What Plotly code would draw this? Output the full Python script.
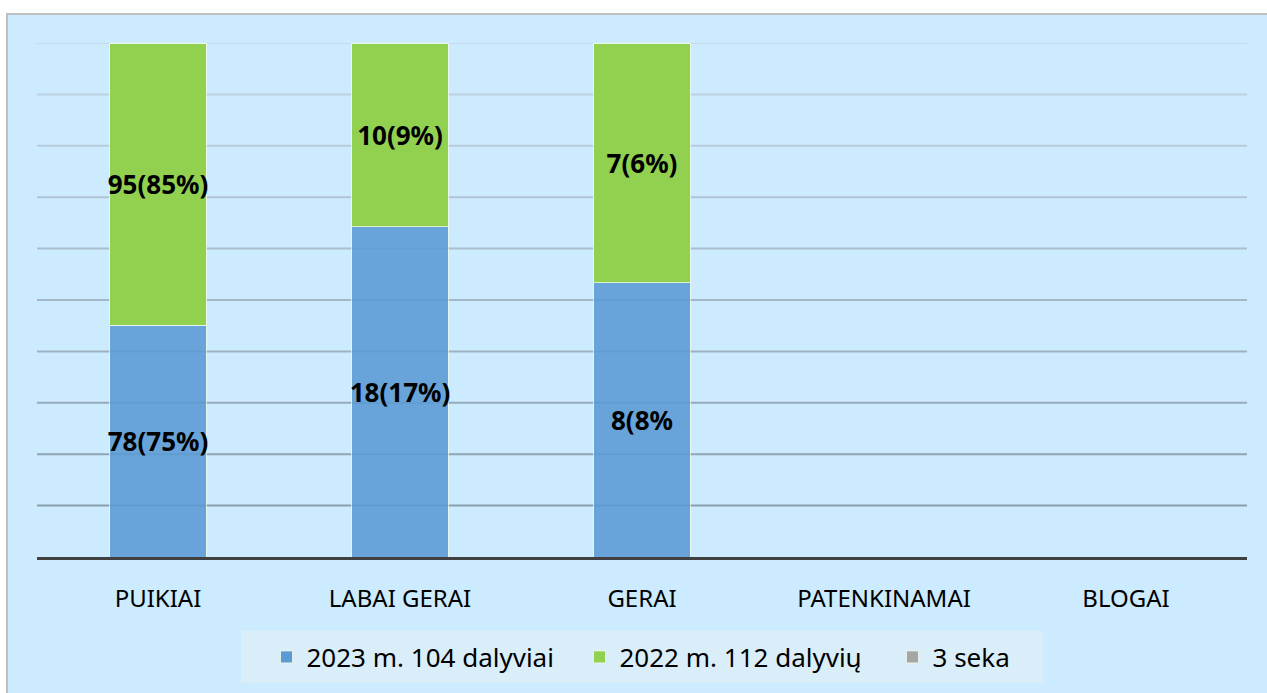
import plotly.graph_objects as go

categories = ["PUIKIAI", "LABAI GERAI", "GERAI", "PATENKINAMAI", "BLOGAI"]
series_names = ["2023 m. 104 dalyviai", "2022 m. 112 dalyvių", "3 seka"]
values_2023 = [78, 18, 8, 0, 0]
values_2022 = [95, 10, 7, 0, 0]
values_s3 = [0, 0, 0, 0, 0]
labels_2023 = ["78(75%)", "18(17%)", "8(8%", "", ""]
labels_2022 = ["95(85%)", "10(9%)", "7(6%)", "", ""]
labels_s3 = ["", "", "", "", ""]
grid_ticks = [0.1, 0.2, 0.3, 0.4, 0.5, 0.6, 0.7, 0.8, 0.9, 1.0]

W, H = 1267, 693
L, R, T, B = 37, 20, 43, 136
pw, ph = W - L - R, H - T - B

def px_x(x):
    return (x - L) / pw

def px_y(y):
    return (H - B - y) / ph

font_main = "Noto Sans, Open Sans, sans-serif"

fig = go.Figure()
colors = ["#5B9BD5", "#92D050", "#A5A5A5"]
opac = [0.88, 1.0, 1.0]
for name, vals, labs, col, op in zip(series_names, [values_2023, values_2022, values_s3],
                                     [labels_2023, labels_2022, labels_s3], colors, opac):
    fig.add_trace(go.Bar(
        name=name, x=categories, y=vals, text=labs,
        textposition="inside", insidetextanchor="middle", textangle=0,
        constraintext="none",
        textfont=dict(family=font_main, size=26, color="#000000", weight="bold"),
        marker=dict(color=col, opacity=op, line=dict(color="rgba(240,250,235,0.8)", width=1)),
        hoverinfo="skip",
    ))

shapes = []
# figure frame
shapes.append(dict(type="rect", xref="paper", yref="paper",
                   x0=px_x(7), x1=px_x(1290), y0=px_y(14), y1=px_y(720),
                   line=dict(color="#BFBFBF", width=2), fillcolor="#CCEBFE", layer="below"))
# legend box
shapes.append(dict(type="rect", xref="paper", yref="paper",
                   x0=px_x(241), x1=px_x(1043), y0=px_y(631), y1=px_y(683),
                   line=dict(width=0), fillcolor="#D9EEF9", layer="below"))
# gradient gridlines
n = len(grid_ticks) - 1
for i, t in enumerate(grid_ticks):
    f = i / n
    r = int(138 + (195 - 138) * f)
    g = int(158 + (216 - 158) * f)
    b = int(174 + (233 - 174) * f)
    shapes.append(dict(type="line", xref="paper", yref="y", x0=0, x1=1, y0=t, y1=t,
                       line=dict(color=f"rgb({r},{g},{b})", width=2), layer="below"))

fig.update_layout(
    width=W, height=H,
    margin=dict(l=L, r=R, t=T, b=B),
    paper_bgcolor="#FFFFFF", plot_bgcolor="rgba(0,0,0,0)",
    barmode="stack", barnorm="fraction", bargap=0.603,
    shapes=shapes,
    showlegend=True,
    legend=dict(orientation="h", x=0.5 + 94 / pw, xanchor="center", y=px_y(657), yanchor="middle",
                traceorder="normal", entrywidth=268, entrywidthmode="pixels",
                bgcolor="rgba(0,0,0,0)", font=dict(family=font_main, size=26, color="#000000"),
                itemclick=False, itemdoubleclick=False),
    xaxis=dict(showgrid=False, showline=True, linecolor="#404040", linewidth=3,
               ticks="", tickfont=dict(family=font_main, size=24, color="#000000"),
               ticklabelstandoff=18, fixedrange=True),
    yaxis=dict(range=[0, 1], showgrid=False, showticklabels=False, zeroline=False,
               fixedrange=True),
)

fig.write_html("out.html", config={"displayModeBar": False},
               post_script="document.body.style.margin='0';document.body.style.overflow='hidden';")
